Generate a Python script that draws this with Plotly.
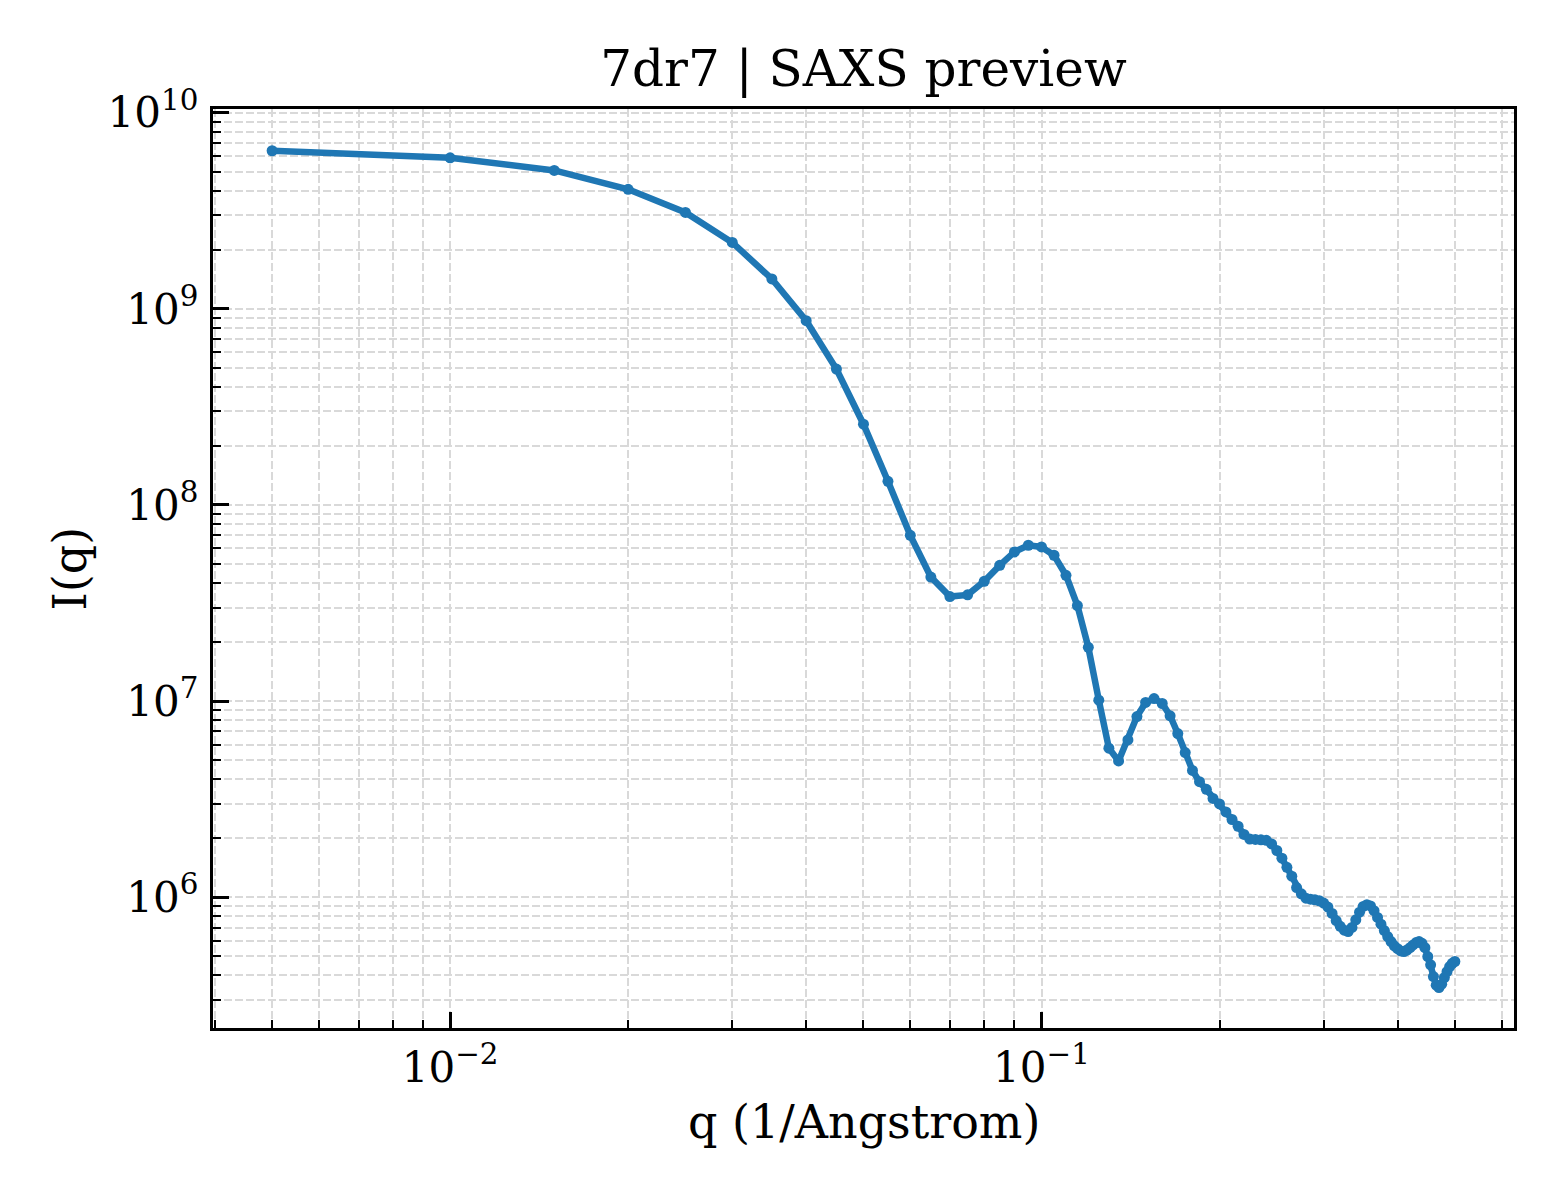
import plotly.graph_objects as go

# q values (1/Angstrom)
q = [0.005, 0.010, 0.015, 0.020, 0.025, 0.030, 0.035, 0.040, 0.045, 0.050,
     0.055, 0.060, 0.065, 0.070, 0.075, 0.080, 0.085, 0.090, 0.095, 0.100,
     0.105, 0.110, 0.115, 0.120, 0.125, 0.130, 0.135, 0.140, 0.145, 0.150,
     0.155, 0.160, 0.165, 0.170, 0.175, 0.180, 0.185, 0.190, 0.195, 0.200,
     0.205, 0.210, 0.215, 0.220, 0.225, 0.230, 0.235, 0.240, 0.245, 0.250,
     0.255, 0.260, 0.265, 0.270, 0.275, 0.280, 0.285, 0.290, 0.295, 0.300,
     0.305, 0.310, 0.315, 0.320, 0.325, 0.330, 0.335, 0.340, 0.345, 0.350,
     0.355, 0.360, 0.365, 0.370, 0.375, 0.380, 0.385, 0.390, 0.395, 0.400,
     0.405, 0.410, 0.415, 0.420, 0.425, 0.430, 0.435, 0.440, 0.445, 0.450,
     0.455, 0.460, 0.465, 0.470, 0.475, 0.480, 0.485, 0.490, 0.495, 0.500]

# intensity I(q)
intensity = [6.4e9, 5.89e9, 5.08e9, 4.07e9, 3.10e9, 2.18e9, 1.42e9, 8.7e8, 4.93e8, 2.58e8,
             1.32e8, 7.0e7, 4.29e7, 3.41e7, 3.48e7, 4.08e7, 4.92e7, 5.76e7, 6.23e7, 6.11e7,
             5.54e7, 4.38e7, 3.07e7, 1.88e7, 1.01e7, 5.75e6, 4.95e6, 6.34e6, 8.34e6, 9.84e6,
             1.03e7, 9.72e6, 8.41e6, 6.83e6, 5.46e6, 4.43e6, 3.88e6, 3.55e6, 3.19e6, 2.99e6,
             2.72e6, 2.49e6, 2.30e6, 2.09e6, 1.98e6, 1.97e6, 1.96e6, 1.95e6, 1.87e6, 1.73e6,
             1.58e6, 1.42e6, 1.28e6, 1.12e6, 1.04e6, 9.89e5, 9.77e5, 9.70e5, 9.59e5, 9.33e5,
             8.91e5, 8.26e5, 7.59e5, 7.10e5, 6.79e5, 6.68e5, 7.01e5, 7.67e5, 8.39e5, 8.97e5,
             9.16e5, 9.02e5, 8.53e5, 7.89e5, 7.28e5, 6.76e5, 6.30e5, 5.94e5, 5.65e5, 5.46e5,
             5.32e5, 5.28e5, 5.38e5, 5.53e5, 5.71e5, 5.87e5, 5.94e5, 5.82e5, 5.53e5, 4.98e5,
             4.52e5, 3.94e5, 3.56e5, 3.46e5, 3.60e5, 3.89e5, 4.17e5, 4.43e5, 4.60e5, 4.70e5]

x_major = [0.01, 0.1]
x_major_text = ["10<sup>\u22122</sup>", "10<sup>\u22121</sup>"]
y_major = [1e6, 1e7, 1e8, 1e9, 1e10]
y_major_text = ["10<sup>6</sup>", "10<sup>7</sup>", "10<sup>8</sup>",
                "10<sup>9</sup>", "10<sup>10</sup>"]

x_minor = [m * 10.0 ** e for e in (-3, -2, -1) for m in range(2, 10)]
y_minor = [m * 10.0 ** e for e in (5, 6, 7, 8, 9) for m in range(2, 10)]

FONT = "DejaVu Serif"
GRID = "#d9d9d9"
DASH = "8px,3px"

fig = go.Figure()
fig.add_trace(go.Scatter(
    x=q, y=intensity,
    mode="lines+markers",
    line=dict(color="#1f77b4", width=6.5),
    marker=dict(color="#1f77b4", size=11),
    showlegend=False,
))

axis_common = dict(
    type="log",
    showline=True, linecolor="black", linewidth=3.3, mirror=True,
    ticks="inside", ticklen=16, tickwidth=3, tickcolor="black",
    showgrid=True, gridcolor=GRID, gridwidth=1.6, griddash=DASH,
    zeroline=False,
    tickfont=dict(family=FONT, size=42, color="black"),
    tickmode="array",
)

fig.update_xaxes(
    **axis_common,
    range=[-2.401, -0.201],
    tickvals=x_major, ticktext=x_major_text,
    minor=dict(tickmode="array", tickvals=x_minor, ticks="inside", ticklen=8,
               tickwidth=2, tickcolor="black", showgrid=True,
               gridcolor=GRID, gridwidth=1.6, griddash=DASH),
)
fig.update_yaxes(
    **axis_common,
    range=[5.333, 10.019],
    tickvals=y_major, ticktext=y_major_text,
    ticklabelstandoff=3,
    minor=dict(tickmode="array", tickvals=y_minor, ticks="inside", ticklen=8,
               tickwidth=2, tickcolor="black", showgrid=True,
               gridcolor=GRID, gridwidth=1.6, griddash=DASH),
)

# page body has an 8px margin, so the figure is 8px smaller and shifted
fig.update_layout(
    width=1552, height=1192,
    margin=dict(l=205, r=46, t=101, b=172),
    paper_bgcolor="white", plot_bgcolor="white",
    font=dict(family=FONT, color="black"),
    title=dict(text="7dr7 | SAXS preview", font=dict(family=FONT, size=50, color="black"),
               x=0.5, xref="paper", y=1 - 60 / 1192, yref="container",
               xanchor="center", yanchor="middle"),
    annotations=[
        dict(text="q (1/Angstrom)", x=0.5, y=-0.102, xref="paper", yref="paper",
             xanchor="center", yanchor="middle", showarrow=False,
             font=dict(family=FONT, size=46, color="black")),
        dict(text="I(q)", x=-0.11, y=0.5, xref="paper", yref="paper",
             xanchor="center", yanchor="middle", showarrow=False, textangle=-90,
             font=dict(family=FONT, size=46, color="black")),
    ],
)

fig.write_html("out.html")
